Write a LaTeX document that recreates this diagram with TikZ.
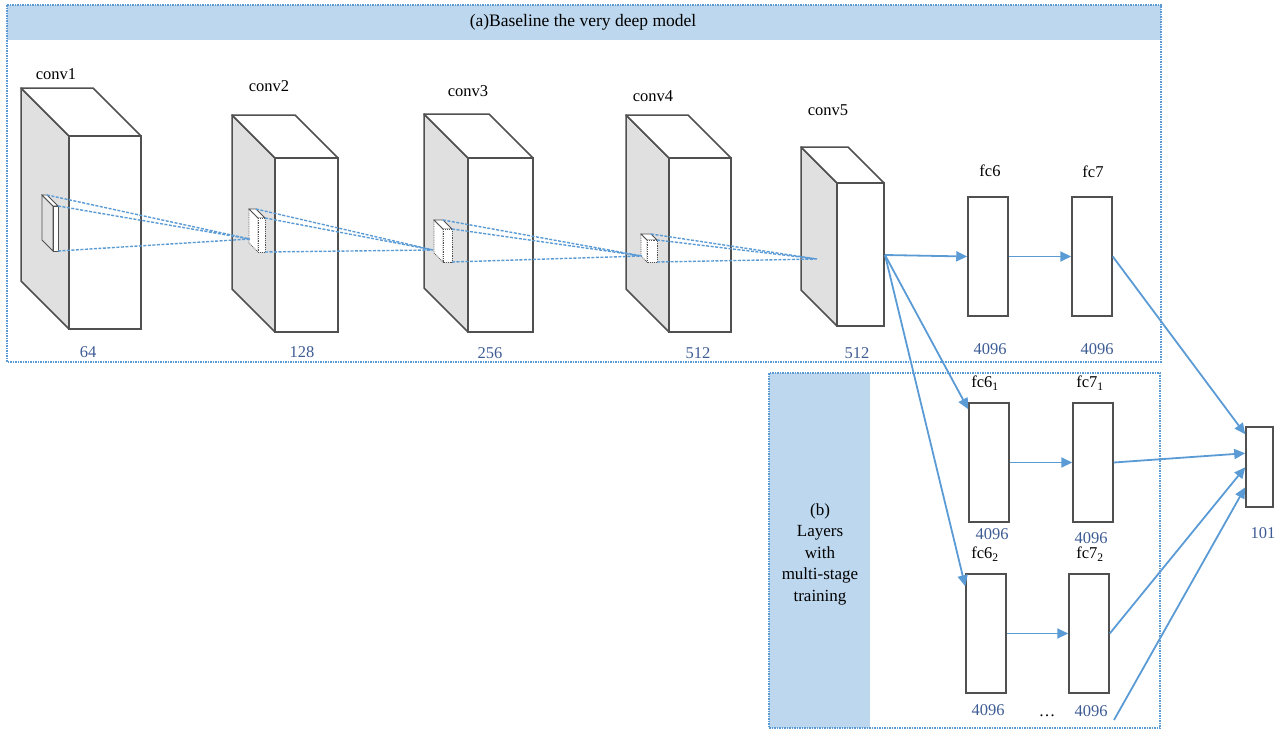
\documentclass[tikz,border=0pt]{standalone}
\usepackage{fontspec}
\setmainfont{Liberation Serif}
\usetikzlibrary{arrows.meta}
\definecolor{bandblue}{RGB}{189,215,238}
\definecolor{edgeblue}{RGB}{91,155,213}
\definecolor{numgray}{RGB}{62,92,148}
\definecolor{sidegray}{RGB}{224,224,224}
\definecolor{linegray}{RGB}{80,80,80}

% big feature block: front top-left x, y, width, height, depth
\newcommand{\convblock}[5]{%
  \filldraw[draw=linegray, fill=sidegray, line width=1.5pt, line join=round] ({#1-#5},{#2-#5}) -- (#1,#2) -- (#1,{#2+#4}) -- ({#1-#5},{#2+#4-#5}) -- cycle;
  \filldraw[draw=linegray, fill=white, line width=1.5pt, line join=round] ({#1-#5},{#2-#5}) -- ({#1+#3-#5},{#2-#5}) -- ({#1+#3},#2) -- (#1,#2) -- cycle;
  \filldraw[draw=linegray, fill=white, line width=1.5pt] (#1,#2) rectangle ({#1+#3},{#2+#4});
}
% small filter block: name, side style, x, y, width, height, depth
\newcommand{\filterblock}[7]{%
  \filldraw[#2] ({#3-#7},{#4-#7}) -- (#3,#4) -- (#3,{#4+#6}) -- ({#3-#7},{#4+#6-#7}) -- cycle;
  \filldraw[fltr] ({#3-#7},{#4-#7}) -- ({#3+#5-#7},{#4-#7}) -- ({#3+#5},#4) -- (#3,#4) -- cycle;
  \filldraw[#2, fill=white] (#3,#4) rectangle ({#3+#5},{#4+#6});
  \coordinate (#1-bt) at ({#3+#5-#7},{#4-#7});
  \coordinate (#1-ft) at ({#3+#5},#4);
  \coordinate (#1-fb) at ({#3+#5},{#4+#6});
}

\begin{document}
\begin{tikzpicture}[x=1pt, y=-1pt, font=\fontsize{16.5}{20}\selectfont,
    >={Triangle[length=11pt,width=10pt]},
    frame/.style={draw=edgeblue, line width=1.5pt, densely dotted},
    fcbox/.style={draw=linegray, fill=white, line width=1.5pt, inner sep=0pt,
                  minimum width=40pt, minimum height=119pt},
    num/.style={text=numgray},
    arr/.style={->, draw=edgeblue, line width=1.8pt},
    proj/.style={draw=edgeblue, line width=1.4pt, dash pattern=on 3pt off 1.5pt},
    fltr/.style={draw=linegray, fill=white, line width=0.8pt},
    fltrdot/.style={draw=linegray, fill=white, line width=0.8pt, densely dotted}]
  \useasboundingbox (0,0) rectangle (1286,731);
  % (a) frame
  \fill[bandblue] (7,5) rectangle (1161,40);
  \draw[frame] (7,5) rectangle (1161,362);
  \node[font=\fontsize{17.5}{20}\selectfont] (titlea) at (583,22) {(a)Baseline the very deep model};
  % (b) frame
  \fill[bandblue] (769,373) rectangle (870,728);
  \draw[frame] (769,373) rectangle (1160,728);
  \node[align=center, font=\fontsize{17}{21.5}\selectfont] (titleb) at (820,554)
    {(b)\\Layers\\with\\multi-stage\\training};

  % conv blocks
  \convblock{69}{136}{72}{193}{48}
  \convblock{275}{158}{63}{174}{43}
  \convblock{468}{158}{65}{174}{44}
  \convblock{669}{158}{62}{174}{43}
  \convblock{837}{183}{47}{143}{36}
  \node (conv1) at (56,74) {conv1};
  \node (conv2) at (269,86) {conv2};
  \node (conv3) at (468,91) {conv3};
  \node (conv4) at (653,96) {conv4};
  \node (conv5) at (828,110) {conv5};
  \node[num] (n1) at (88,352) {64};
  \node[num] (n2) at (302,352) {128};
  \node[num] (n3) at (490,353) {256};
  \node[num] (n4) at (698,353) {512};
  \node[num] (n5) at (857,353) {512};

  % filters and receptive fields
  \filterblock{f1}{fill=sidegray, draw=linegray, line width=0.8pt}{53}{206}{5}{45}{11}
  \filterblock{f2}{fltrdot}{258}{218}{7}{34}{9}
  \filterblock{f3}{fltrdot}{443}{229}{9}{33}{9}
  \filterblock{f4}{fltrdot}{647}{240}{10}{22}{6}
  \coordinate (p2) at (250,239);
  \coordinate (p3) at (433,250);
  \coordinate (p4) at (642,256);
  \coordinate (p5) at (817,259);
  \draw[proj] (f1-bt) -- (p2) (f1-ft) -- (p2) (f1-fb) -- (p2);
  \draw[proj] (f2-bt) -- (p3) (f2-ft) -- (p3) (f2-fb) -- (p3);
  \draw[proj] (f3-bt) -- (p4) (f3-ft) -- (p4) (f3-fb) -- (p4);
  \draw[proj] (f4-bt) -- (p5) (f4-ft) -- (p5) (f4-fb) -- (p5);

  % fully connected layers
  \node[fcbox] (fc6) at (988,256.5) {};
  \node[fcbox] (fc7) at (1092,256.5) {};
  \node[fcbox] (fc61) at (989,462.5) {};
  \node[fcbox] (fc71) at (1093,462.5) {};
  \node[fcbox] (fc62) at (986,633.5) {};
  \node[fcbox] (fc72) at (1089,633.5) {};
  \node[fcbox, minimum width=27pt, minimum height=80pt] (out) at (1259.5,467) {};
  \node (lfc6) at (990,171) {fc6};
  \node (lfc7) at (1093,172) {fc7};
  \node (lfc61) at (985,383) {fc6\textsubscript{1}};
  \node (lfc71) at (1090,383) {fc7\textsubscript{1}};
  \node (lfc62) at (985,554) {fc6\textsubscript{2}};
  \node (lfc72) at (1090,554) {fc7\textsubscript{2}};
  \node[num] (nfc6) at (990,349) {4096};
  \node[num] (nfc7) at (1097,349) {4096};
  \node[num] (nfc61) at (992,534) {4096};
  \node[num] (nfc71) at (1091,538) {4096};
  \node[num] (nfc62) at (988,710) {4096};
  \node[num] (nfc72) at (1091,711) {4096};
  \node[num] (nout) at (1263,533) {101};
  \node (dots) at (1047,716) {\dots};

  % connections
  \coordinate (c5) at (885,255);
  \coordinate (more) at (1114,720);
  \draw[arr] (c5) -- (fc6.west);
  \draw[arr] (fc6) -- (fc7);
  \draw[arr] (c5) -- ([yshift=-7pt]fc61.north west);
  \draw[arr] (c5) -- ([yshift=-13pt]fc62.north west);
  \draw[arr] (fc61) -- (fc71);
  \draw[arr] (fc62) -- (fc72);
  \draw[arr] (fc7.east) -- ([yshift=-8pt]out.north west);
  \draw[arr] (fc71.east) -- ([yshift=-27pt]out.north west);
  \draw[arr] (fc72.east) -- ([yshift=-41pt]out.north west);
  \draw[arr] (more) -- ([yshift=-61pt]out.north west);
\end{tikzpicture}
\end{document}
